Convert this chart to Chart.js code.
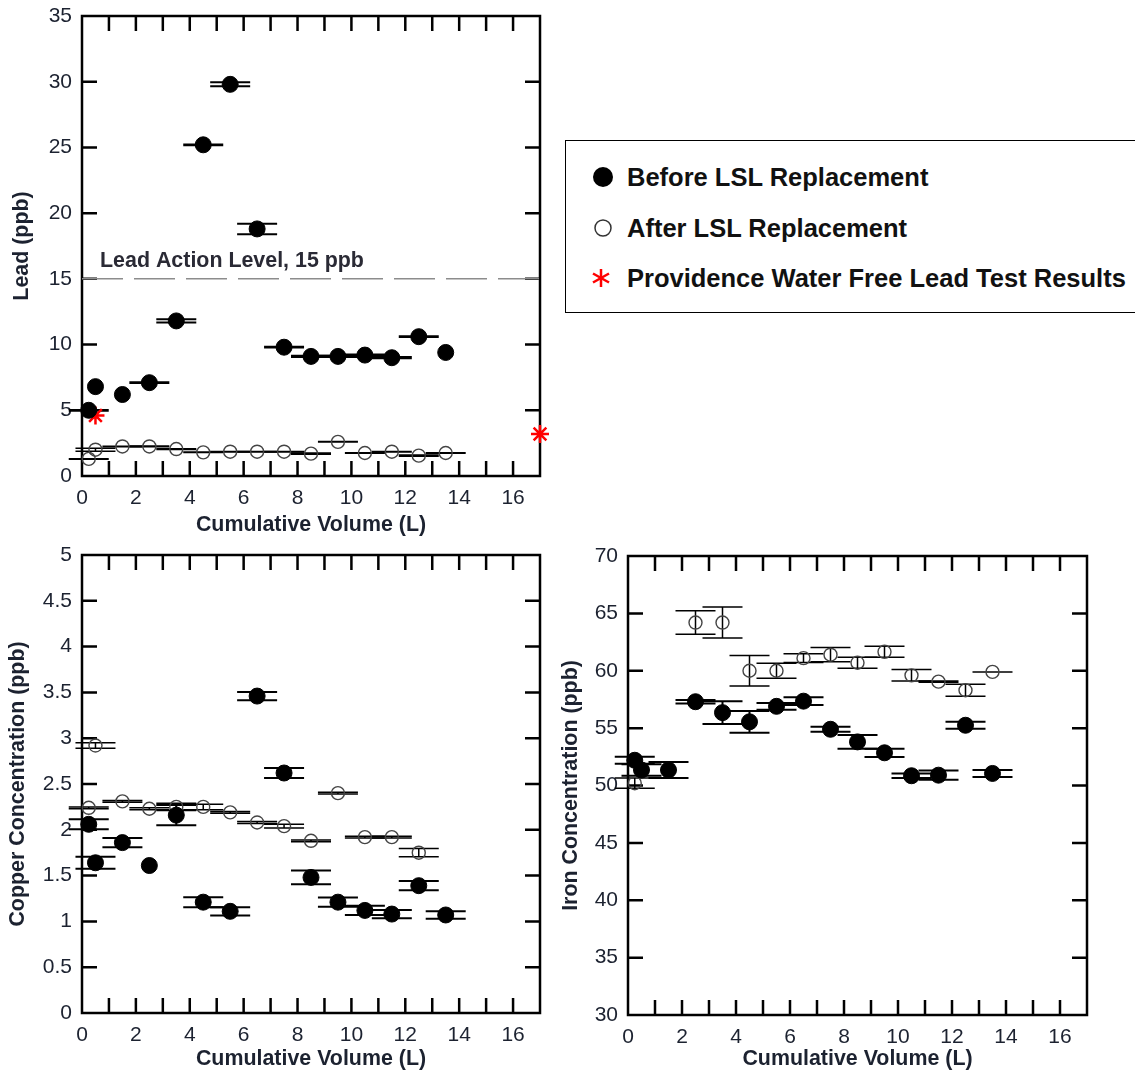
<!DOCTYPE html>
<html>
<head>
<meta charset="utf-8">
<title>Lead, copper and iron profiles before / after LSL replacement</title>
<script src="https://cdn.jsdelivr.net/npm/chart.js@4.4.1/dist/chart.umd.min.js"></script>
<style>
  body { margin: 0; background: #fff; font-family: 'Liberation Sans', Arial, sans-serif; }
  #page { position: relative; width: 1135px; height: 1078px; overflow: hidden; }
  canvas { position: absolute; }
  #lead-chart { left: 0; top: 0; }
  #copper-chart { left: 0; top: 540px; }
  #iron-chart { left: 560px; top: 540px; }
  #legend { position: absolute; left: 565px; top: 140px; width: 571px; height: 173px;
            border: 1.5px solid #000; box-sizing: border-box; }
  .row { position: absolute; left: 0; height: 30px; line-height: 30px; font-weight: bold;
         font-size: 25.5px; color: #111; white-space: nowrap; }
  .row .txt { position: absolute; left: 61px; top: 0; }
  .row svg { position: absolute; left: 22px; top: 0; }
</style>
</head>
<body>
<div id="page">
  <canvas id="lead-chart" width="560" height="540"></canvas>
  <canvas id="copper-chart" width="560" height="538"></canvas>
  <canvas id="iron-chart" width="575" height="538"></canvas>

  <div id="legend">
    <div class="row" style="top:21px">
      <svg width="30" height="30"><circle cx="15" cy="15" r="10" fill="#000"/></svg>
      <span class="txt">Before LSL Replacement</span>
    </div>
    <div class="row" style="top:72px">
      <svg width="30" height="30"><circle cx="15" cy="15" r="8" fill="none" stroke="#333" stroke-width="1.5"/></svg>
      <span class="txt">After LSL Replacement</span>
    </div>
    <div class="row" style="top:122px">
      <svg width="30" height="30" stroke="#f00" stroke-width="2.5">
        <line x1="13" y1="6" x2="13" y2="24"/><line x1="5" y1="10.5" x2="21" y2="19.5"/><line x1="5" y1="19.5" x2="21" y2="10.5"/>
      </svg>
      <span class="txt">Providence Water Free Lead Test Results</span>
    </div>
  </div>
</div>

<script>
// Sampling profile data

// cumulative volume of each 1 L sample (first two are 250 mL / 500 mL)
const volume = [0.25, 0.5, 1.5, 2.5, 3.5, 4.5, 5.5, 6.5, 7.5, 8.5, 9.5, 10.5, 11.5, 12.5, 13.5];

// Lead (ppb)
const leadBefore    = [5.0, 6.8, 6.2, 7.1, 11.8, 25.2, 29.8, 18.8, 9.8, 9.1, 9.1, 9.2, 9.0, 10.6, 9.4];
const leadBeforeErr = [0.03, null, null, 0.03, 0.12, 0.03, 0.15, 0.4, 0.03, 0.05, 0.05, 0.05, 0.05, 0.03, null];
const leadAfter     = [1.3, 2.0, 2.25, 2.25, 2.05, 1.8, 1.85, 1.85, 1.85, 1.7, 2.6, 1.75, 1.85, 1.55, 1.75];
const leadAfterErr  = [0.02, 0.12, 0.02, 0.03, 0.03, 0.02, 0.02, 0.02, 0.02, 0.05, 0.02, 0.02, 0.02, 0.05, 0.02];
const freeLeadVolume = [0.5, 17];
const freeLead       = [4.6, 3.2];
const actionLevel = 15;

// Copper (ppb)
const copperBefore    = [2.06, 1.64, 1.86, 1.61, 2.16, 1.21, 1.11, 3.46, 2.62, 1.48, 1.21, 1.12, 1.08, 1.39, 1.07];
const copperBeforeErr = [0.055, 0.065, 0.05, null, 0.11, 0.055, 0.045, 0.045, 0.055, 0.075, 0.05, 0.05, 0.045, 0.05, 0.04];
const copperAfterVolume = [0.25, 0.5, 1.5, 2.5, 3.5, 4.5, 5.5, 6.5, 7.5, 8.5, 9.5, 10.5, 11.5, 12.5];
const copperAfter     = [2.24, 2.92, 2.31, 2.23, 2.25, 2.25, 2.19, 2.08, 2.04, 1.88, 2.40, 1.92, 1.92, 1.75];
const copperAfterErr  = [0.01, 0.03, 0.01, 0.01, 0.04, 0.03, 0.01, 0.01, 0.02, 0.01, 0.01, 0.01, 0.01, 0.045];

// Iron (ppb)
const ironBefore    = [52.2, 51.35, 51.35, 57.3, 56.35, 55.55, 56.9, 57.35, 54.9, 53.8, 52.85, 50.85, 50.9, 55.25, 51.05];
const ironBeforeErr = [0.3, 0.5, 0.7, 0.15, 1.0, 0.95, 0.3, 0.33, 0.22, 0.6, 0.36, 0.2, 0.4, 0.3, 0.3];
const ironAfterVolume = [0.25, 2.5, 3.5, 4.5, 5.5, 6.5, 7.5, 8.5, 9.5, 10.5, 11.5, 12.5, 13.5];
const ironAfter     = [50.2, 64.2, 64.2, 60.0, 60.0, 61.1, 61.4, 60.7, 61.65, 59.6, 59.05, 58.3, 59.9];
const ironAfterErr  = [0.45, 1.03, 1.35, 1.33, 0.65, 0.38, 0.62, 0.48, 0.48, 0.5, 0.05, 0.52, 0];

// Axis ticks
const volumeTicks = { min: 0, max: 17, step: 1 };
const leadTicks   = { min: 0, max: 35, step: 5 };
const copperTicks = { min: 0, max: 5, step: 0.5 };
const ironTicks   = { min: 30, max: 70, step: 5 };

const TEXT = '#1c2230';
const FONT = "'Liberation Sans', Arial, sans-serif";
Chart.defaults.font.family = FONT;
Chart.defaults.color = TEXT;

/**
 * Error bars with wide caps (KaleidaGraph style)
 */
const errorBarPlugin = {
    id: 'errorBars',
    beforeDatasetsDraw(chart) {
        const { ctx } = chart;
        const x = chart.scales.x, y = chart.scales.y;
        chart.data.datasets.forEach(ds => {
            if (!ds.errors) return;
            ctx.save();
            ctx.strokeStyle = '#000';
            ctx.lineWidth = ds.errorWidth;
            ds.data.forEach((p, i) => {
                const e = ds.errors[i];
                if (e === null || e === undefined) return;
                const px = x.getPixelForValue(p.x);
                const top = y.getPixelForValue(p.y + e);
                const bot = y.getPixelForValue(p.y - e);
                ctx.beginPath();
                ctx.moveTo(px, top); ctx.lineTo(px, bot);
                ctx.moveTo(px - 20, top); ctx.lineTo(px + 20, top);
                ctx.moveTo(px - 20, bot); ctx.lineTo(px + 20, bot);
                ctx.stroke();
            });
            ctx.restore();
        });
    }
};

/**
 * Box around the plot with inward ticks on every side
 */
const framePlugin = {
    id: 'frame',
    beforeDatasetsDraw(chart) {
        const { ctx, chartArea: a } = chart;
        const x = chart.scales.x, y = chart.scales.y;
        ctx.save();
        ctx.strokeStyle = '#000';
        ctx.lineWidth = 2.5;
        ctx.strokeRect(a.left, a.top, a.right - a.left, a.bottom - a.top);
        ctx.beginPath();
        x.ticks.forEach(t => {
            const px = x.getPixelForValue(t.value);
            if (px <= a.left + 1 || px >= a.right - 1) return;
            ctx.moveTo(px, a.bottom); ctx.lineTo(px, a.bottom - 15);
            ctx.moveTo(px, a.top); ctx.lineTo(px, a.top + 15);
        });
        y.ticks.forEach(t => {
            const py = y.getPixelForValue(t.value);
            if (py <= a.top + 1 || py >= a.bottom - 1) return;
            ctx.moveTo(a.left, py); ctx.lineTo(a.left + 15, py);
            ctx.moveTo(a.right, py); ctx.lineTo(a.right - 15, py);
        });
        ctx.stroke();
        ctx.restore();
    }
};

/**
 * Text above the lead action level line
 */
const actionLabelPlugin = {
    id: 'actionLabel',
    afterDatasetsDraw(chart, args, opts) {
        if (!opts.text) return;
        const { ctx } = chart;
        ctx.save();
        ctx.font = 'bold 21.4px ' + FONT;
        ctx.fillStyle = '#2a2a35';
        ctx.textAlign = 'left';
        ctx.textBaseline = 'alphabetic';
        ctx.fillText(opts.text, chart.scales.x.getPixelForValue(opts.x), chart.scales.y.getPixelForValue(opts.y));
        ctx.restore();
    }
};

function toPoints(xs, ys) {
    return xs.map((v, i) => ({ x: v, y: ys[i] }));
}

function beforeSet(xs, ys, errs) {
    return {
        data: toPoints(xs, ys), errors: errs, errorWidth: 2,
        pointStyle: 'circle', pointRadius: 8, backgroundColor: '#000', borderColor: '#000',
        borderWidth: 1, clip: false
    };
}

function afterSet(xs, ys, errs) {
    return {
        data: toPoints(xs, ys), errors: errs, errorWidth: 1.5,
        pointStyle: 'circle', pointRadius: 6.5, backgroundColor: 'rgba(0,0,0,0)', borderColor: '#444',
        borderWidth: 1.4, clip: false
    };
}

// the plot box is placed by layout padding only, not by label overhang
function fixBox(s, size) {
    if (s.isHorizontal()) s.height = size; else s.width = size;
    s.paddingTop = 0; s.paddingBottom = 0; s.paddingLeft = 0; s.paddingRight = 0;
}

function volumeAxis(height, titlePad) {
    return {
        type: 'linear', min: volumeTicks.min, max: volumeTicks.max,
        ticks: {
            stepSize: volumeTicks.step, autoSkip: false, maxRotation: 0, padding: 10,
            color: TEXT, font: { size: 21 },
            callback: v => (v % 2 === 0 && v <= 16) ? v : ''
        },
        grid: { display: false, drawTicks: false },
        border: { display: false },
        title: {
            display: true, text: 'Cumulative Volume (L)', color: TEXT,
            font: { size: 21.4, weight: 'bold', lineHeight: 1 }, padding: { top: 0, bottom: titlePad }
        },
        afterFit: s => fixBox(s, height)
    };
}

function valueAxis(t, title, width, titlePad) {
    return {
        type: 'linear', min: t.min, max: t.max,
        ticks: { stepSize: t.step, padding: 10, color: TEXT, font: { size: 21 }, callback: v => String(v) },
        grid: { display: false, drawTicks: false },
        border: { display: false },
        title: {
            display: true, text: title, color: TEXT,
            font: { size: 21.4, weight: 'bold', lineHeight: 1 }, padding: { top: titlePad, bottom: 0 }
        },
        afterFit: s => fixBox(s, width)
    };
}

function baseOptions(padding, xAxis, yAxis, label) {
    return {
        responsive: false,
        animation: false,
        layout: { padding: padding },
        scales: { x: xAxis, y: yAxis },
        plugins: {
            legend: { display: false },
            tooltip: { enabled: false },
            actionLabel: label || {}
        }
    };
}

document.addEventListener('DOMContentLoaded', function () {
    // Lead chart
    new Chart(document.getElementById('lead-chart'), {
        type: 'scatter',
        data: {
            datasets: [
                {
                    type: 'line', data: [{ x: volumeTicks.min, y: actionLevel }, { x: volumeTicks.max, y: actionLevel }],
                    borderColor: '#8c8c8c', borderWidth: 1.5, borderDash: [41, 11], pointRadius: 0
                },
                beforeSet(volume, leadBefore, leadBeforeErr),
                afterSet(volume, leadAfter, leadAfterErr),
                {
                    data: toPoints(freeLeadVolume, freeLead), pointStyle: 'star', pointRadius: 9,
                    borderColor: '#ff0000', backgroundColor: '#ff0000', borderWidth: 2.5, clip: false
                }
            ]
        },
        options: baseOptions({ top: 16, right: 20, left: 0, bottom: 0 },
            volumeAxis(64, 4.3), valueAxis(leadTicks, 'Lead (ppb)', 82, 11.3),
            { text: 'Lead Action Level, 15 ppb', x: 0.67, y: 15.9 }),
        plugins: [framePlugin, errorBarPlugin, actionLabelPlugin]
    });

    // Copper chart
    new Chart(document.getElementById('copper-chart'), {
        type: 'scatter',
        data: {
            datasets: [
                beforeSet(volume, copperBefore, copperBeforeErr),
                afterSet(copperAfterVolume, copperAfter, copperAfterErr)
            ]
        },
        options: baseOptions({ top: 15, right: 20, left: 0, bottom: 0 },
            volumeAxis(65, 8.3), valueAxis(copperTicks, 'Copper Concentration (ppb)', 82, 7.3)),
        plugins: [framePlugin, errorBarPlugin, actionLabelPlugin]
    });

    // Iron chart
    new Chart(document.getElementById('iron-chart'), {
        type: 'scatter',
        data: {
            datasets: [
                beforeSet(volume, ironBefore, ironBeforeErr),
                afterSet(ironAfterVolume, ironAfter, ironAfterErr)
            ]
        },
        options: baseOptions({ top: 16, right: 48, left: 0, bottom: 0 },
            volumeAxis(63, 8.3), valueAxis(ironTicks, 'Iron Concentration (ppb)', 68, 0)),
        plugins: [framePlugin, errorBarPlugin, actionLabelPlugin]
    });
});
</script>
</body>
</html>
